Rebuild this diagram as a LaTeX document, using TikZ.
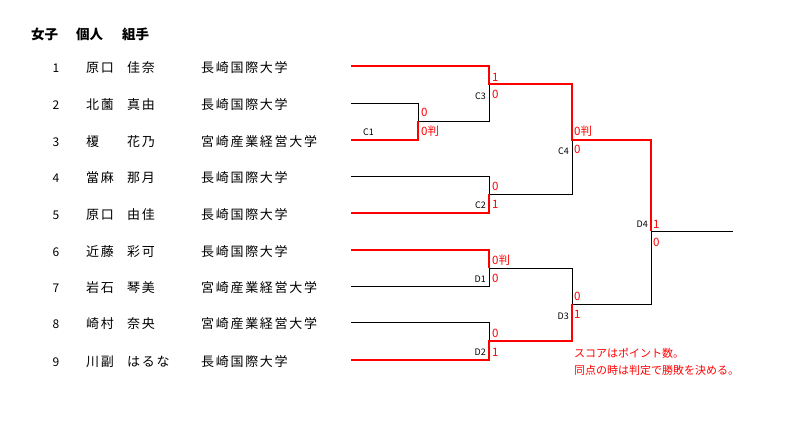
\documentclass[tikz,border=0pt]{standalone}
\usepackage{fontspec}
\setmainfont{Noto Sans CJK JP}
\newfontfamily\jp{Noto Sans CJK JP}
\newfontfamily\jpsp[LetterSpace=13]{Noto Sans CJK JP}
\definecolor{sred}{RGB}{255,0,0}
\begin{document}
\begin{tikzpicture}[x=1pt,y=-1pt,
  txt/.style={anchor=west,inner sep=0pt,font=\jpsp\fontsize{13}{13}\selectfont},
  num/.style={anchor=center,inner sep=0pt,font=\jp\fontsize{12}{12}\selectfont},
  ttl/.style={anchor=west,inner sep=0pt,font=\jp\bfseries\fontsize{13.5}{13.5}\selectfont},
  sc/.style={anchor=west,inner sep=0pt,text=sred,font=\jp\fontsize{11.5}{11.5}\selectfont},
  mlab/.style={anchor=east,inner sep=0pt,font=\jp\fontsize{9}{9}\selectfont},
  note/.style={anchor=west,inner sep=0pt,text=sred,font=\jp\fontsize{11}{11}\selectfont},
  bl/.style={draw=black,line width=0.8pt},
  rd/.style={draw=sred,line width=2pt,line join=miter}]
\path[use as bounding box,fill=white] (0,0) rectangle (791,430);

% title
\node[ttl] (t1) at (31,34) {女子};
\node[ttl] (t2) at (76,34) {個人};
\node[ttl] (t3) at (122,34) {組手};

% rows
\foreach \i/\y/\fa/\gi/\un in {1/66/原口/佳奈/長崎国際大学,
  2/103/北薗/真由/長崎国際大学,
  3/140/榎/花乃/宮崎産業経営大学,
  4/176/當麻/那月/長崎国際大学,
  5/213/原口/由佳/長崎国際大学,
  6/250/近藤/彩可/長崎国際大学,
  7/286/岩石/琴美/宮崎産業経営大学,
  8/322/崎村/奈央/宮崎産業経営大学,
  9/360/川副/はるな/長崎国際大学}{
  \node[num] (n\i) at (56,\y+2) {\i};
  \node[txt] (f\i) at (86,\y+2) {\fa};
  \node[txt] (g\i) at (127,\y+2) {\gi};
  \node[txt] (u\i) at (201,\y+2) {\un};
  \coordinate (s\i) at (351,\y);
}

% bracket coordinates
\coordinate (c1top) at (418,103); \coordinate (c1) at (418,121); \coordinate (c1bot) at (418,140);
\coordinate (c3top) at (489,66);  \coordinate (c3) at (489,84);  \coordinate (c3bot) at (489,121);
\coordinate (c2top) at (489,176); \coordinate (c2) at (489,194); \coordinate (c2bot) at (489,213);
\coordinate (c4top) at (572,84);  \coordinate (c4) at (572,140); \coordinate (c4bot) at (572,194);
\coordinate (d1top) at (489,250); \coordinate (d1) at (489,268); \coordinate (d1bot) at (489,286);
\coordinate (d2top) at (489,322); \coordinate (d2) at (489,341); \coordinate (d2bot) at (489,360);
\coordinate (d3top) at (572,268); \coordinate (d3) at (572,304); \coordinate (d3bot) at (572,341);
\coordinate (d4top) at (651,140); \coordinate (d4) at (651,231); \coordinate (d4bot) at (651,304);
\coordinate (fin) at (733,231);

% black lines
\draw[bl] (s2) -- (c1top) -- (c1) -- (c3bot) -- (c3);
\draw[bl] (s4) -- (c2top) -- (c2) -- (c4bot) -- (c4);
\draw[bl] (s7) -- (d1bot) -- (d1) -- (d3top) -- (d3) -- (d4bot) -- (d4) -- (fin);
\draw[bl] (s8) -- (d2top) -- (d2);

% red lines
\draw[rd] (s1) -- (c3top) -- (c3) -- (c4top) -- (c4) -- (d4top) -- (d4);
\draw[rd] (s3) -- (c1bot) -- (c1);
\draw[rd] (s5) -- (c2bot) -- (c2);
\draw[rd] (s6) -- (d1top) -- (d1);
\draw[rd] (s9) -- (d2bot) -- (d2) -- (d3bot) -- (d3);

% match labels
\node[anchor=west,inner sep=0pt,font=\jp\fontsize{9}{9}\selectfont] (lc1) at (363,132) {C1};
\node[mlab] (lc3) at (486,96) {C3};
\node[mlab] (lc2) at (486,205) {C2};
\node[mlab] (lc4) at (569,151) {C4};
\node[mlab] (ld1) at (486,279) {D1};
\node[mlab] (ld2) at (486,352) {D2};
\node[mlab] (ld3) at (569,316) {D3};
\node[mlab] (ld4) at (648,224) {D4};

% scores
\node[sc] (sc1a) at (421,112) {0};
\node[sc] (sc1b) at (421,131) {0判};
\node[sc] (sc3a) at (492,77) {1};
\node[sc] (sc3b) at (492,94) {0};
\node[sc] (sc2a) at (492,186) {0};
\node[sc] (sc2b) at (492,204) {1};
\node[sc] (sc4a) at (574,131) {0判};
\node[sc] (sc4b) at (574,149) {0};
\node[sc] (sd1a) at (492,260) {0判};
\node[sc] (sd1b) at (492,278) {0};
\node[sc] (sd2a) at (492,333) {0};
\node[sc] (sd2b) at (492,352) {1};
\node[sc] (sd3a) at (574,296) {0};
\node[sc] (sd3b) at (574,314) {1};
\node[sc] (sd4a) at (653,224) {1};
\node[sc] (sd4b) at (653,242) {0};

% note
\node[note] (nt1) at (574,353) {スコアはポイント数。};
\node[note] (nt2) at (574,370) {同点の時は判定で勝敗を決める。};
\end{tikzpicture}
\end{document}
